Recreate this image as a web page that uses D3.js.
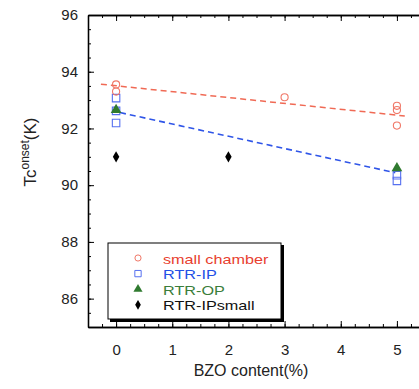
<!DOCTYPE html>
<html><head><meta charset="utf-8">
<script src="https://cdn.jsdelivr.net/npm/d3@7"></script>
<style>body{margin:0;background:#fff}svg{display:block;font-family:"Liberation Sans",Arial,sans-serif}</style>
</head><body><svg id="c" width="419" height="389"></svg>
<script>
const smallChamberX = [0, 0, 3, 5, 5, 5];
const smallChamberY = [93.55, 93.3, 93.1, 92.8, 92.65, 92.1];
const rtrIPX = [0, 0, 0, 5, 5];
const rtrIPY = [93.07, 92.62, 92.19, 90.35, 90.15];
const rtrOPX = [0, 5];
const rtrOPY = [92.65, 90.6];
const rtrIPsmallX = [0, 2];
const rtrIPsmallY = [91.0, 91.0];
const redFitX = [-0.27, 5.14];
const redFitY = [93.56, 92.44];
const blueFitX = [0.07, 4.97];
const blueFitY = [92.56, 90.44];
const xTicks = [0, 1, 2, 3, 4, 5];
const yTicks = [86, 88, 90, 92, 94, 96];
const legendLabels = ["small chamber", "RTR-IP", "RTR-OP", "RTR-IPsmall"];

const svg = d3.select("#c");
const x = d3.scaleLinear().domain([-0.5, 5.5]).range([88, 425]);
const y = d3.scaleLinear().domain([85, 96]).range([327, 15]);

const axG = svg.append("g");
const axStyle = g => g.call(s => s.select(".domain").attr("stroke", "#000").attr("stroke-width", 1.3))
  .call(s => s.selectAll(".tick line").attr("stroke", "#000"));
const xMinor = d3.range(-0.5, 5.51, 0.25);
const yMinor = d3.range(85, 96.01, 0.5);
const fmt = d3.format("d");
// bottom
axG.append("g").attr("transform", `translate(0,${y(85)})`)
  .call(d3.axisBottom(x).tickValues(xMinor).tickSize(-3).tickFormat("").tickSizeOuter(0)).call(axStyle);
axG.append("g").attr("transform", `translate(0,${y(85)})`)
  .call(d3.axisBottom(x).tickValues(xTicks).tickSize(-6).tickPadding(17).tickFormat(fmt).tickSizeOuter(0)).call(axStyle)
  .call(g => g.selectAll("text").attr("font-size", 15).attr("fill", "#222").attr("font-family", "Liberation Sans, Arial, sans-serif"));
// top
axG.append("g").attr("transform", `translate(0,${y(96)})`)
  .call(d3.axisTop(x).tickValues(xMinor).tickSize(-3).tickFormat("").tickSizeOuter(0)).call(axStyle);
axG.append("g").attr("transform", `translate(0,${y(96)})`)
  .call(d3.axisTop(x).tickValues(xTicks).tickSize(-6).tickFormat("").tickSizeOuter(0)).call(axStyle);
// left
axG.append("g").attr("transform", `translate(${x(-0.5)},0)`)
  .call(d3.axisLeft(y).tickValues(yMinor).tickSize(-3).tickFormat("").tickSizeOuter(0)).call(axStyle);
axG.append("g").attr("transform", `translate(${x(-0.5)},0)`)
  .call(d3.axisLeft(y).tickValues(yTicks).tickSize(-6).tickPadding(10).tickFormat(fmt).tickSizeOuter(0)).call(axStyle)
  .call(g => g.selectAll("text").attr("font-size", 15).attr("fill", "#222").attr("font-family", "Liberation Sans, Arial, sans-serif"));
// right
axG.append("g").attr("transform", `translate(${x(5.5)},0)`)
  .call(d3.axisRight(y).tickValues(yMinor).tickSize(-3).tickFormat("").tickSizeOuter(0)).call(axStyle);
axG.append("g").attr("transform", `translate(${x(5.5)},0)`)
  .call(d3.axisRight(y).tickValues(yTicks).tickSize(-6).tickFormat("").tickSizeOuter(0)).call(axStyle);

// axis titles
svg.append("text").attr("x", 251).attr("y", 376).attr("text-anchor", "middle")
  .attr("font-size", 16).attr("fill", "#222").text("BZO content(%)");
const yl = svg.append("text").attr("transform", "translate(36,152) rotate(-90)").attr("text-anchor", "middle")
  .attr("font-size", 17).attr("fill", "#222");
yl.append("tspan").text("Tc");
yl.append("tspan").attr("font-size", 12).attr("dy", -7).text("onset");
yl.append("tspan").attr("dy", 7).text("(K)");

// fit lines
const line = d3.line().x(d => x(d[0])).y(d => y(d[1]));
svg.append("path").datum(d3.zip(redFitX, redFitY)).attr("d", line)
  .attr("fill", "none").attr("stroke", "#f06a55").attr("stroke-width", 1.5).attr("stroke-dasharray", "6,4");
svg.append("path").datum(d3.zip(blueFitX, blueFitY)).attr("d", line)
  .attr("fill", "none").attr("stroke", "#2f55e8").attr("stroke-width", 1.6).attr("stroke-dasharray", "6,4");

const red = "#f07868", blue = "#5670f0", green = "#2f7a2f";
const sym = {
  circle: d3.symbol().type(d3.symbolCircle).size(40),
  square: d3.symbol().type(d3.symbolSquare).size(56),
  tri: d3.symbol().type(d3.symbolTriangle).size(50),
  diamond: d3.symbol().type(d3.symbolDiamond).size(36)
};
function pts(xs, ys, s, fill, stroke) {
  svg.append("g").selectAll("path").data(d3.zip(xs, ys)).join("path")
    .attr("transform", d => `translate(${x(d[0])},${y(d[1])})`)
    .attr("d", s).attr("fill", fill).attr("stroke", stroke).attr("stroke-width", 1.1);
}
pts(rtrIPX, rtrIPY, sym.square, "none", blue);
pts(rtrOPX, rtrOPY, sym.tri, green, "none");
pts(smallChamberX, smallChamberY, sym.circle, "none", red);
pts(rtrIPsmallX, rtrIPsmallY, sym.diamond, "#000", "none");

// legend
const lg = svg.append("g");
lg.append("rect").attr("x", 110).attr("y", 245).attr("width", 174).attr("height", 77).attr("fill", "#000");
lg.append("rect").attr("x", 108).attr("y", 243).attr("width", 173).attr("height", 76)
  .attr("fill", "#fff").attr("stroke", "#000").attr("stroke-width", 1);
const legSyms = [[sym.circle, "none", red], [sym.square, "none", blue], [sym.tri, green, "none"], [sym.diamond, "#000", "none"]];
const legText = ["#e8402f", "#2350e6", "#3a7d3a", "#111"];
const legSize = [30, 40, 36, 28];
legendLabels.forEach((t, i) => {
  const yy = 258 + i * 15.6;
  const s = d3.symbol().type([d3.symbolCircle, d3.symbolSquare, d3.symbolTriangle, d3.symbolDiamond][i]).size(legSize[i]);
  lg.append("path").attr("transform", `translate(138,${yy})`).attr("d", s)
    .attr("fill", legSyms[i][1]).attr("stroke", legSyms[i][2]).attr("stroke-width", 1);
  const tx = lg.append("text").attr("x", 163).attr("y", yy + 5.5).attr("font-size", 13.5).attr("fill", legText[i]).text(t);
  const w = tx.node().getComputedTextLength();
  tx.attr("textLength", w * 1.2).attr("lengthAdjust", "spacingAndGlyphs");
});
</script></body></html>
